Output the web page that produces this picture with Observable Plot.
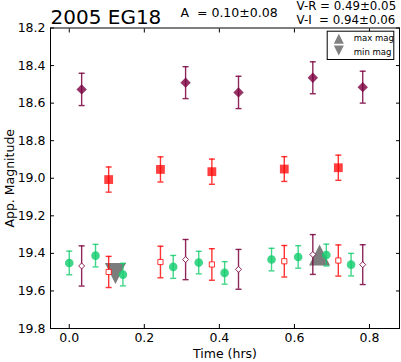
<!DOCTYPE html>
<html>
<head>
<meta charset="utf-8">
<script src="https://cdn.jsdelivr.net/npm/d3@7"></script>
<script src="https://cdn.jsdelivr.net/npm/@observablehq/plot@0.6"></script>
<style>
  html, body { margin: 0; padding: 0; background: white; }
</style>
</head>
<body>
<div id="chart"></div>
<script>
// ---- data ----
const vTime = [0.000, 0.070, 0.143, 0.277, 0.345, 0.414, 0.539, 0.610, 0.685, 0.751];
const vMag  = [19.451, 19.412, 19.513, 19.472, 19.449, 19.504, 19.433, 19.419, 19.409, 19.460];
const vErr  = [0.063, 0.060, 0.060, 0.061, 0.060, 0.060, 0.060, 0.060, 0.058, 0.060];

const rTime = [0.105, 0.243, 0.380, 0.573, 0.717];
const rMag  = [19.007, 18.953, 18.965, 18.951, 18.944];
const rErr  = [0.067, 0.067, 0.067, 0.066, 0.067];
const rShiftMag = [19.499, 19.446, 19.459, 19.442, 19.438];
const rShiftErr = [0.083, 0.084, 0.084, 0.084, 0.083];

const iTime = [0.033, 0.310, 0.451, 0.649, 0.782];
const iMag  = [18.527, 18.491, 18.543, 18.465, 18.515];
const iErr  = [0.086, 0.085, 0.086, 0.085, 0.085];
const iShiftMag = [19.467, 19.433, 19.485, 19.406, 19.460];
const iShiftErr = [0.107, 0.107, 0.106, 0.106, 0.106];

const maxMagPoint = {t: 0.667, m: 19.408};
const minMagPoint = {t: 0.123, m: 19.507};

const xTicks = [0.0, 0.2, 0.4, 0.6, 0.8];
const yTicks = [18.2, 18.4, 18.6, 18.8, 19.0, 19.2, 19.4, 19.6, 19.8];

const titleText = "2005 EG18";
const ampText = "A  = 0.10\u00B10.08";
const vrText = "V-R = 0.49\u00B10.05";
const viText = "V-I  = 0.94\u00B10.06";
const legendLabels = ["max mag", "min mag"];

// ---- tables ----
const table = (T, M, E) => T.map((t, i) => ({t, m: M[i], e: E[i]}));
const vData = table(vTime, vMag, vErr);
const rData = table(rTime, rMag, rErr);
const rsData = table(rTime, rShiftMag, rShiftErr);
const iData = table(iTime, iMag, iErr);
const isData = table(iTime, iShiftMag, iShiftErr);

// ---- custom symbols ----
const rad = size => Math.sqrt(size / Math.PI);
const capSym = {draw(c, s) { const r = rad(s); c.moveTo(-r, 0); c.lineTo(r, 0); }};
const sqSym = {draw(c, s) { const r = rad(s); c.rect(-r, -r, 2 * r, 2 * r); }};
const diaSym = {draw(c, s) { const r = rad(s); c.moveTo(0, -r); c.lineTo(r, 0); c.lineTo(0, r); c.lineTo(-r, 0); c.closePath(); }};
const triUp = {draw(c, s) { const r = rad(s); c.moveTo(0, -r); c.lineTo(r, r); c.lineTo(-r, r); c.closePath(); }};
const triDown = {draw(c, s) { const r = rad(s); c.moveTo(0, r); c.lineTo(r, -r); c.lineTo(-r, -r); c.closePath(); }};

const GREEN = "#10cc6c", RED = "#ff0000", PURP = "#7a0040", GRAY = "#6e6e6e";

function errbars(data, color, op, capR = 3) {
  return [
    Plot.ruleX(data, {x: "t", y1: d => d.m - d.e, y2: d => d.m + d.e, stroke: color, strokeOpacity: op, strokeWidth: 1.4}),
    Plot.dot(data, {x: "t", y: d => d.m - d.e, symbol: capSym, r: capR, stroke: color, strokeOpacity: op, strokeWidth: 1.4, fill: "none"}),
    Plot.dot(data, {x: "t", y: d => d.m + d.e, symbol: capSym, r: capR, stroke: color, strokeOpacity: op, strokeWidth: 1.4, fill: "none"})
  ];
}

const chart = Plot.plot({
  width: 401,
  height: 362,
  marginLeft: 50,
  marginRight: 2,
  marginTop: 27.5,
  marginBottom: 34,
  style: {fontFamily: "DejaVu Sans", fontSize: "12.5px", background: "white", color: "black"},
  x: {domain: [-0.05, 0.88], axis: null},
  y: {domain: [18.2, 19.8], reverse: true, axis: null},
  marks: [
    // extreme markers (beneath)
    Plot.dot([maxMagPoint], {x: "t", y: "m", symbol: triUp, r: 10.5, fill: GRAY, fillOpacity: 0.9, stroke: "none"}),
    Plot.dot([minMagPoint], {x: "t", y: "m", symbol: triDown, r: 10.5, fill: GRAY, fillOpacity: 0.9, stroke: "none"}),

    // V
    ...errbars(vData, GREEN, 0.8),
    Plot.dot(vData, {x: "t", y: "m", r: 4.3, fill: GREEN, fillOpacity: 0.8, stroke: "none"}),
    // R shifted (open squares)
    ...errbars(rsData, RED, 0.8),
    Plot.dot(rsData, {x: "t", y: "m", symbol: sqSym, r: 2.6, fill: "white", stroke: RED, strokeOpacity: 0.8, strokeWidth: 1}),
    // I shifted (open diamonds)
    ...errbars(isData, PURP, 0.85),
    Plot.dot(isData, {x: "t", y: "m", symbol: diaSym, r: 3, fill: "white", stroke: PURP, strokeOpacity: 0.85, strokeWidth: 1}),
    // R raw (filled squares)
    ...errbars(rData, RED, 0.8),
    Plot.dot(rData, {x: "t", y: "m", symbol: sqSym, r: 4.4, fill: RED, fillOpacity: 0.75, stroke: "none"}),
    // I raw (filled diamonds)
    ...errbars(iData, PURP, 0.85),
    Plot.dot(iData, {x: "t", y: "m", symbol: diaSym, r: 5.2, fill: PURP, fillOpacity: 0.8, stroke: "none"}),

    // tick labels (no tick lines)
    Plot.axisY(yTicks, {anchor: "left", tickSize: 0, tickPadding: 5, tickFormat: d3.format(".1f"), label: null, fontSize: 12.5}),
    Plot.axisX(xTicks, {anchor: "bottom", tickSize: 0, tickPadding: 5, tickFormat: d3.format(".1f"), label: null, fontSize: 12.5}),
    // inward ticks on all sides
    Plot.axisY(yTicks, {anchor: "left", tickSize: -4, tickFormat: () => "", label: null}),
    Plot.axisY(yTicks, {anchor: "right", tickSize: -4, tickFormat: () => "", label: null}),
    Plot.axisX(xTicks, {anchor: "bottom", tickSize: -4, tickFormat: () => "", label: null}),
    Plot.axisX(xTicks, {anchor: "top", tickSize: -4, tickFormat: () => "", label: null}),
    Plot.frame({stroke: "black", strokeWidth: 1}),

    // axis labels
    Plot.text(["Time (hrs)"], {frameAnchor: "bottom", lineAnchor: "bottom", dy: 29, fontSize: 12.5, textAnchor: "middle"}),
    Plot.text(["App. Magnitude"], {frameAnchor: "left", dx: -41, rotate: -90, fontSize: 12.5, textAnchor: "middle"}),

    // title texts
    Plot.text([titleText], {frameAnchor: "top-left", textAnchor: "start", lineAnchor: "bottom", dy: -4.5, fontSize: 20}),
    Plot.text([ampText], {frameAnchor: "top-left", textAnchor: "start", lineAnchor: "bottom", dx: 130, dy: -10.8, fontSize: 12.5}),
    Plot.text([vrText], {frameAnchor: "top-left", textAnchor: "start", lineAnchor: "bottom", dx: 246, dy: -17.7, fontSize: 11.8}),
    Plot.text([viText], {frameAnchor: "top-left", textAnchor: "start", lineAnchor: "bottom", dx: 246, dy: -4.0, fontSize: 11.8}),

    // legend
    Plot.frame({fill: "white", stroke: "black", strokeWidth: 1, insetLeft: 276.7, insetRight: 5.7, insetTop: 3.2, insetBottom: 269}),
    Plot.dot([0], {frameAnchor: "top-right", dx: -60.7, dy: 10.8, symbol: triUp, r: 5, fill: "#808080", stroke: "none"}),
    Plot.dot([0], {frameAnchor: "top-right", dx: -60.7, dy: 22.6, symbol: triDown, r: 5, fill: "#808080", stroke: "none"}),
    Plot.text([legendLabels[0]], {frameAnchor: "top-left", textAnchor: "start", lineAnchor: "bottom", dx: 303.3, dy: 13.2, fontSize: 8.5}),
    Plot.text([legendLabels[1]], {frameAnchor: "top-left", textAnchor: "start", lineAnchor: "bottom", dx: 303.3, dy: 26.8, fontSize: 8.5})
  ]
});
document.getElementById("chart").appendChild(chart);
</script>
</body>
</html>
